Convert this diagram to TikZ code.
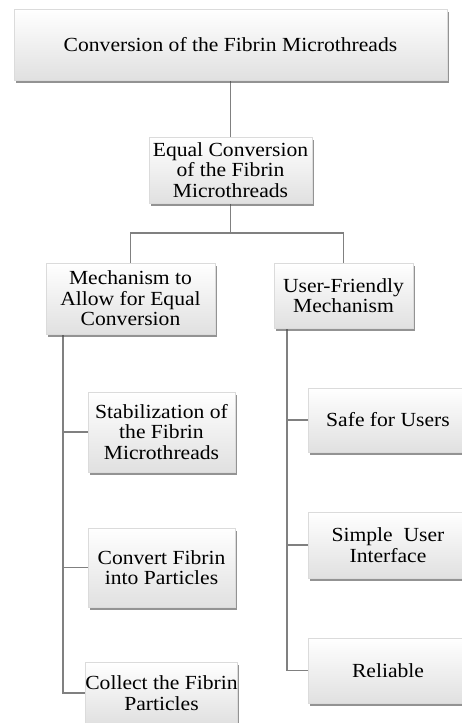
\documentclass[tikz,border=0pt]{standalone}
\usepackage{fontspec}
\setmainfont[FakeStretch=1.08]{Liberation Serif}
\usetikzlibrary{shadows,backgrounds}

\tikzset{
  box/.style={rectangle, draw=black!14, line width=0.6pt,
    top color=white, bottom color=black!12,
    drop shadow={shadow xshift=1.5pt, shadow yshift=-3pt, opacity=0.6, fill=black!70},
    align=center, inner sep=0pt,
    font=\fontsize{20}{20.5}\selectfont},
  link/.style={draw=black!50, line width=1.8pt}
}

\begin{document}
\begin{tikzpicture}[x=1pt,y=-1pt]
  \useasboundingbox (0,0) rectangle (462,723);
  \clip (0,0) rectangle (462,723);

  % tree nodes
  \node[box, minimum width=433pt, minimum height=71pt] (top) at (230.5,44.5)
    {Conversion of the Fibrin Microthreads};
  \node[box, minimum width=163pt, minimum height=66pt] (eq) at (230.5,170)
    {Equal Conversion\\of the Fibrin\\Microthreads};
  \node[box, minimum width=169pt, minimum height=71pt] (mech) at (130.5,298.5)
    {Mechanism to\\Allow for Equal\\Conversion};
  \node[box, minimum width=139pt, minimum height=65pt] (user) at (343.5,295.5)
    {User-Friendly\\Mechanism};

  \node[box, minimum width=147pt, minimum height=80pt] (stab) at (161.5,432)
    {Stabilization of\\the Fibrin\\Microthreads};
  \node[box, minimum width=147pt, minimum height=79pt] (conv) at (161.5,567.5)
    {Convert Fibrin\\into Particles};
  \node[box, minimum width=147pt, minimum height=62pt] (coll) at (161.5,693)
    {Collect the Fibrin\\Particles};

  \node[box, minimum width=160pt, minimum height=64pt] (safe) at (388,420)
    {Safe for Users};
  \node[box, minimum width=160pt, minimum height=66pt] (simple) at (388,545)
    {Simple\ \ User\\Interface};
  \node[box, minimum width=160pt, minimum height=65pt] (rel) at (388,670.5)
    {Reliable};

  % junction points of the connectors
  \coordinate (j1) at (230.5,233);
  \coordinate (lt) at (63,334);
  \coordinate (rt) at (287,328);

  \begin{pgfonlayer}{background}
    \fill[white] (0,0) rectangle (462,723);
    \draw[link] (top.south) -- (eq.north);
    \draw[link] (eq.south) -- (j1) -| (mech.north);
    \draw[link] (j1) -| (user.north);
    \draw[link] (lt) |- (stab.west);
    \draw[link] (lt) |- (conv.west);
    \draw[link] (lt) |- (coll.west);
    \draw[link] (rt) |- (safe.west);
    \draw[link] (rt) |- (simple.west);
    \draw[link] (rt) |- (rel.west);
  \end{pgfonlayer}
\end{tikzpicture}
\end{document}
